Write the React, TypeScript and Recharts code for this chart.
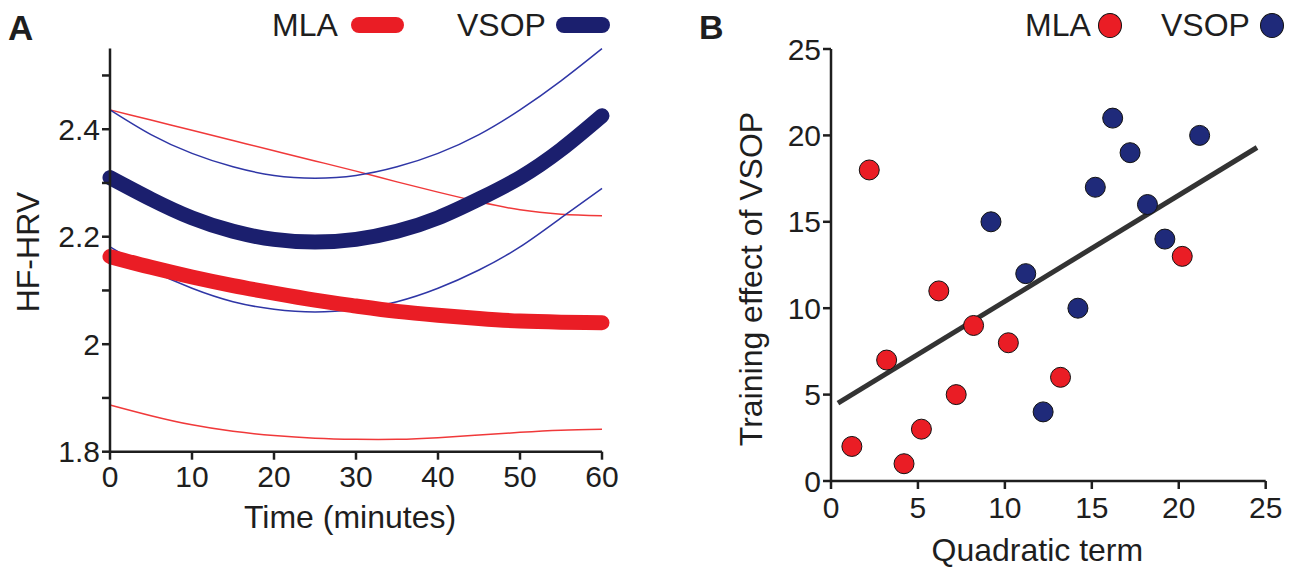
import React from "react";
import {
  LineChart,
  Line,
  ScatterChart,
  Scatter,
  XAxis,
  YAxis,
} from "recharts";

const FONT = "'Liberation Sans', Arial, Helvetica, sans-serif";
const INK = "#1e1e1e";
const RED = "#ea1d25";
const NAVY = "#1b1f6e";
const THIN_RED = "#f0393a";
const THIN_BLUE = "#2f36a6";
const DOT_BLUE = "#1f2a7a";

// ── Panel A: HF-HRV over time ──
const TIME = [0, 5, 10, 15, 20, 25, 30, 35, 40, 45, 50, 55, 60];
const VSOP_MEAN = [2.31, 2.27, 2.235, 2.21, 2.195, 2.19, 2.195, 2.21, 2.235, 2.27, 2.31, 2.362, 2.425];
const VSOP_UPPER = [2.436, 2.39, 2.355, 2.33, 2.314, 2.309, 2.314, 2.33, 2.355, 2.39, 2.436, 2.49, 2.55];
const VSOP_LOWER = [2.181, 2.138, 2.104, 2.079, 2.065, 2.06, 2.065, 2.079, 2.104, 2.138, 2.181, 2.235, 2.29];
const MLA_MEAN = [2.163, 2.143, 2.125, 2.109, 2.095, 2.082, 2.071, 2.061, 2.054, 2.048, 2.043, 2.041, 2.04];
const MLA_UPPER = [2.436, 2.417, 2.398, 2.379, 2.36, 2.341, 2.322, 2.302, 2.283, 2.265, 2.25, 2.242, 2.239];
const MLA_LOWER = [1.887, 1.867, 1.85, 1.838, 1.83, 1.825, 1.823, 1.823, 1.826, 1.831, 1.836, 1.84, 1.842];
const A_X_TICKS = [0, 10, 20, 30, 40, 50, 60];
const A_Y_TICKS = [1.8, 1.9, 2.0, 2.1, 2.2, 2.3, 2.4, 2.5];

// ── Panel B: quadratic term vs training effect ──
const MLA_X = [1.2, 2.2, 3.2, 4.2, 5.2, 6.2, 7.2, 8.2, 10.2, 13.2, 20.2];
const MLA_Y = [2, 18, 7, 1, 3, 11, 5, 9, 8, 6, 13];
const VSOP_X = [9.2, 11.2, 12.2, 14.2, 15.2, 16.2, 17.2, 18.2, 19.2, 21.2];
const VSOP_Y = [15, 12, 4, 10, 17, 21, 19, 16, 14, 20];
const FIT_X = [0.4, 24.5];
const FIT_Y = [4.5, 19.3];
const B_TICKS = [0, 5, 10, 15, 20, 25];

const lineRows = TIME.map((t, i) => ({
  t,
  vsopMean: VSOP_MEAN[i],
  vsopUpper: VSOP_UPPER[i],
  vsopLower: VSOP_LOWER[i],
  mlaMean: MLA_MEAN[i],
  mlaUpper: MLA_UPPER[i],
  mlaLower: MLA_LOWER[i],
}));
const mlaPts = MLA_X.map((x, i) => ({ x, y: MLA_Y[i] }));
const vsopPts = VSOP_X.map((x, i) => ({ x, y: VSOP_Y[i] }));
const fitPts = FIT_X.map((x, i) => ({ x, y: FIT_Y[i] }));

const tickStyle = { fill: INK, fontSize: 30, fontFamily: FONT };
const axisLine = { stroke: INK, strokeWidth: 2.5 };
const tickLine = { stroke: INK, strokeWidth: 2.5 };

function VTitle({ viewBox, text, dx = 0, dy = 0 }: any) {
  const cx = viewBox.x + dx;
  const cy = viewBox.y + viewBox.height / 2 + dy;
  return (
    <text
      x={cx}
      y={cy}
      transform={`rotate(-90 ${cx} ${cy})`}
      textAnchor="middle"
      dominantBaseline="central"
      fill={INK}
      fontSize={32}
      fontFamily={FONT}
    >
      {text}
    </text>
  );
}

function HTitle({ viewBox, text, dx = 0, dy = 0 }: any) {
  const cx = viewBox.x + viewBox.width / 2 + dx;
  const cy = viewBox.y + dy;
  return (
    <text
      x={cx}
      y={cy}
      textAnchor="middle"
      dominantBaseline="central"
      fill={INK}
      fontSize={32}
      fontFamily={FONT}
    >
      {text}
    </text>
  );
}

const dotShape = (fill: string, r: number) => (p: any) =>
  <circle cx={p.cx} cy={p.cy} r={r} fill={fill} stroke="#111" strokeWidth={1} />;

const txt = (left: number, top: number, s: string, bold = false, size = 32) => (
  <div
    style={{
      position: "absolute",
      left,
      top,
      fontSize: size,
      lineHeight: `${size}px`,
      fontFamily: FONT,
      fontWeight: bold ? 700 : 400,
      color: INK,
      whiteSpace: "nowrap",
    }}
  >
    {s}
  </div>
);

export default function App() {
  return (
    <div
      style={{
        position: "absolute",
        left: 0,
        top: 0,
        width: 1299,
        height: 568,
        background: "#fff",
        overflow: "hidden",
      }}
    >
      {/* ── Panel A ── */}
      <div style={{ position: "absolute", left: 0, top: 0 }}>
        <LineChart
          width={650}
          height={568}
          data={lineRows}
          margin={{ top: 48.6, right: 48, left: 30, bottom: 56.3 }}
        >
          <XAxis
            dataKey="t"
            type="number"
            domain={[0, 60]}
            ticks={A_X_TICKS}
            interval={0}
            tick={tickStyle}
            axisLine={axisLine}
            tickLine={tickLine}
            tickSize={8}
            tickMargin={6}
            height={60}
            label={{ content: (p: any) => <HTitle viewBox={p.viewBox} text="Time (minutes)" dx={-6} dy={65} /> }}
          />
          <YAxis
            type="number"
            domain={[1.8, 2.55]}
            ticks={A_Y_TICKS}
            interval={0}
            tick={tickStyle}
            tickFormatter={(v: number) => {
              const k = Math.round(v * 10);
              if (k % 2 !== 0) return "";
              return k === 20 ? "2" : v.toFixed(1);
            }}
            axisLine={axisLine}
            tickLine={tickLine}
            tickSize={8}
            tickMargin={2}
            width={80}
            label={{ content: (p: any) => <VTitle viewBox={p.viewBox} text="HF-HRV" dx={-2} dy={2} /> }}
          />
          <Line type="natural" dataKey="mlaUpper" stroke={THIN_RED} strokeWidth={1.5} dot={false} isAnimationActive={false} />
          <Line type="natural" dataKey="mlaLower" stroke={THIN_RED} strokeWidth={1.5} dot={false} isAnimationActive={false} />
          <Line type="natural" dataKey="vsopUpper" stroke={THIN_BLUE} strokeWidth={1.5} dot={false} isAnimationActive={false} />
          <Line type="natural" dataKey="vsopLower" stroke={THIN_BLUE} strokeWidth={1.5} dot={false} isAnimationActive={false} />
          <Line type="natural" dataKey="vsopMean" stroke={NAVY} strokeWidth={15} strokeLinecap="round" dot={false} isAnimationActive={false} />
          <Line type="natural" dataKey="mlaMean" stroke={RED} strokeWidth={15} strokeLinecap="round" dot={false} isAnimationActive={false} />
        </LineChart>
      </div>

      {/* ── Panel A legend and letter ── */}
      {txt(8, 10, "A", true, 35)}
      {txt(272, 9, "MLA")}
      <div style={{ position: "absolute", left: 351, top: 17, width: 53, height: 16, borderRadius: 8, background: RED }} />
      {txt(457, 9, "VSOP")}
      <div style={{ position: "absolute", left: 556, top: 17, width: 54, height: 16, borderRadius: 8, background: NAVY }} />

      {/* ── Panel B ── */}
      <div style={{ position: "absolute", left: 650, top: 0 }}>
        <ScatterChart
          width={649}
          height={568}
          margin={{ top: 49, right: 33.3, left: 101, bottom: 27 }}
        >
          <XAxis
            dataKey="x"
            type="number"
            domain={[0, 25]}
            ticks={B_TICKS}
            interval={0}
            tick={tickStyle}
            axisLine={axisLine}
            tickLine={tickLine}
            tickSize={8}
            tickMargin={8}
            height={60}
            label={{ content: (p: any) => <HTitle viewBox={p.viewBox} text="Quadratic term" dx={-11} dy={69} /> }}
          />
          <YAxis
            dataKey="y"
            type="number"
            domain={[0, 25]}
            ticks={B_TICKS}
            interval={0}
            tick={tickStyle}
            axisLine={axisLine}
            tickLine={tickLine}
            tickSize={8}
            tickMargin={2}
            width={80}
            label={{ content: (p: any) => <VTitle viewBox={p.viewBox} text="Training effect of VSOP" dx={0} dy={14} /> }}
          />
          <Scatter
            data={fitPts}
            line={{ stroke: "#333", strokeWidth: 5 }}
            shape={() => <g />}
            isAnimationActive={false}
          />
          <Scatter data={mlaPts} shape={dotShape(RED, 10)} isAnimationActive={false} />
          <Scatter data={vsopPts} shape={dotShape(DOT_BLUE, 10)} isAnimationActive={false} />
        </ScatterChart>
      </div>

      {/* ── Panel B legend and letter ── */}
      {txt(699, 10, "B", true, 34)}
      {txt(1025, 9, "MLA")}
      <div style={{ position: "absolute", left: 1098, top: 13, width: 22, height: 23, borderRadius: "50%", background: RED, border: "1px solid #111" }} />
      {txt(1161, 9, "VSOP")}
      <div style={{ position: "absolute", left: 1260, top: 13, width: 22, height: 23, borderRadius: "50%", background: DOT_BLUE, border: "1px solid #111" }} />
    </div>
  );
}
